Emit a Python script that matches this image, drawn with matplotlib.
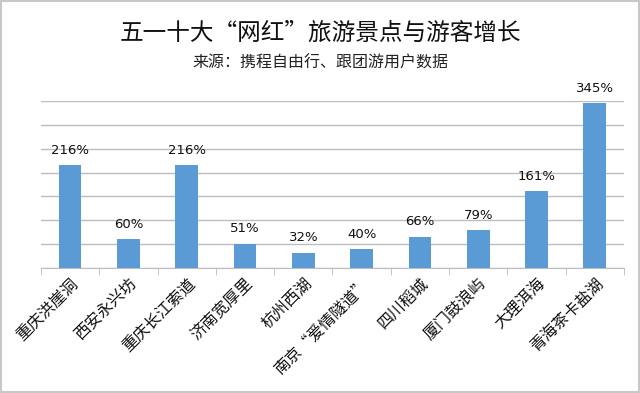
import matplotlib
matplotlib.use("Agg")
import matplotlib.pyplot as plt
from matplotlib.patches import Rectangle
import numpy as np

plt.rcParams['font.family'] = ['Noto Sans CJK SC', 'DejaVu Sans']

title = "五一十大“网红”旅游景点与游客增长"
subtitle = "来源：携程自由行、跟团游用户数据"
categories = ["重庆洪崖洞", "西安永兴坊", "重庆长江索道", "济南宽厚里", "杭州西湖",
              "南京“爱情隧道”", "四川稻城", "厦门鼓浪屿", "大理洱海", "青海茶卡盐湖"]
growth = [216, 60, 216, 51, 32, 40, 66, 79, 161, 345]

fig = plt.figure(figsize=(6.4, 3.93), dpi=100)
ax = fig.add_axes([0.064, 0.318, 0.911, 0.425])

x = np.arange(len(categories))
ax.bar(x, growth, width=0.39, color="#5B9BD5", zorder=3)
for xi, v in zip(x, growth):
    ax.annotate(f"{v}%", (xi, v), xytext=(0, 6), textcoords="offset points",
                ha="center", va="bottom", fontsize=9.5, family="DejaVu Sans", color="#111111")

ax.set_xlim(-0.5, len(categories) - 0.5)
ax.set_ylim(0, 350)
ax.set_yticks(np.arange(0, 351, 50))
ax.yaxis.grid(True, color="#BDBDBD", linewidth=1.0, zorder=0)
ax.tick_params(axis='y', left=False, labelleft=False)
for s in ["top", "right", "left"]:
    ax.spines[s].set_visible(False)
ax.spines["bottom"].set_color("#BDBDBD")

ax.set_xticks(x)
ax.set_xticklabels(categories, rotation=45, ha="right", va="top", rotation_mode="anchor",
                   fontsize=11.5, color="#111111")
ax.tick_params(axis='x', length=0, pad=5)
ax.set_xticks(np.arange(-0.5, len(categories)), minor=True)
ax.tick_params(axis='x', which='minor', length=5, color="#BDBDBD")

fig.text(0.5, 0.915, title, ha="center", va="center", fontsize=17, color="#111111")
fig.text(0.5, 0.84, subtitle, ha="center", va="center", fontsize=11.5, color="#222222")

fig.patches.append(Rectangle((0.002, 0.003), 0.996, 0.994, transform=fig.transFigure,
                             fill=False, edgecolor="#C8C8C8", linewidth=1.5))

fig.savefig("out.png", dpi=100)
